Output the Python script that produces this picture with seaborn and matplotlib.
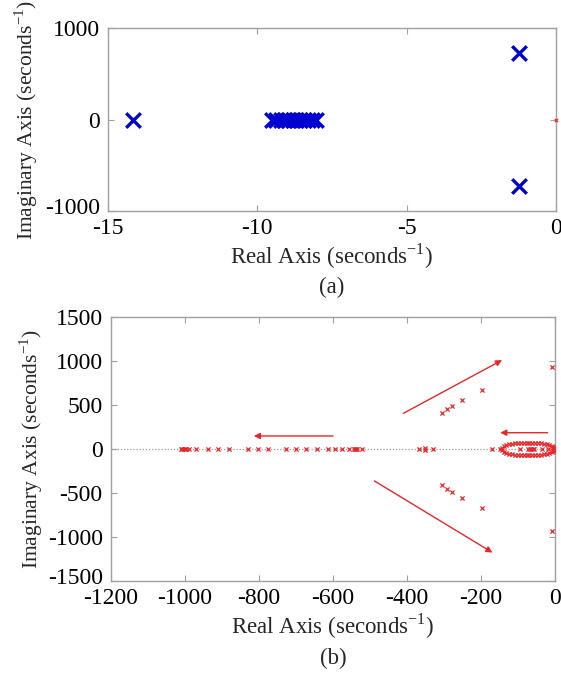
import matplotlib
matplotlib.use("Agg")
import matplotlib.pyplot as plt
import matplotlib.transforms as mtrans
import seaborn as sns
import numpy as np

# ---------------- data: panel (a) ----------------
a_x = [-14.17, -9.50, -9.36, -9.22, -9.08, -8.95, -8.82, -8.69, -8.56,
       -8.43, -8.30, -8.17, -8.04, -1.24, -1.24]
a_y = [0, 0, 0, 0, 0, 0, 0, 0, 0, 0, 0, 0, 0, 730, -730]
a_xticks = [-15, -10, -5, 0]
a_yticks = [-1000, 0, 1000]

# ---------------- data: panel (b) ----------------
real_x = [-1010, -1007, -1004, -1001, -998, -990, -970, -939, -910, -881,
          -830, -804, -777, -727, -701, -674, -644, -614, -595, -577,
          -556, -544, -540, -537, -534, -522, -368, -351, -351, -331,
          -170, -148, -95, -72, -68, -64, -60, -56, -35, -20]
real_y = [0, 0, 0, 0, 0, 0, 0, 0, 0, 0,
          0, 0, 0, 0, 0, 0, 0, 0, 0, 0,
          0, 0, 0, 0, 0, 0, 0, 15, -15, 0,
          0, 0, 0, 0, 0, 0, 0, 0, 0, 0]
cplx_x = [-305, -293, -278, -251, -196, -8]
cplx_y = [405, 450, 488, 556, 670, 935]
ell_x = [-142, -138, -132, -125, -117, -109, -101, -93, -85, -77, -69, -61,
         -53, -45, -37, -29, -22, -15, -9, -5, -2]
ell_y = [12, 32, 45, 54, 61, 66, 69, 71, 72, 73, 73, 72,
         71, 69, 66, 62, 56, 48, 37, 24, 9]
b_xticks = [-1200, -1000, -800, -600, -400, -200, 0]
b_yticks = [-1500, -1000, -500, 0, 500, 1000, 1500]
# arrows: (start_x, start_y, end_x, end_y)
arrow_sx = [-410, -488, -600, -20]
arrow_sy = [405, -363, 148, 185]
arrow_ex = [-143, -169, -814, -148]
arrow_ey = [1010, -1177, 148, 185]

# ---------------- styling ----------------
sns.set_theme(style="ticks")
plt.rcParams["font.family"] = "serif"
plt.rcParams["font.serif"] = ["Liberation Serif", "DejaVu Serif"]
plt.rcParams["mathtext.fontset"] = "custom"
plt.rcParams["mathtext.rm"] = "Liberation Serif"
plt.rcParams["axes.unicode_minus"] = False
TFS = 17
XLFS = 16.5
YLFS = 15.5
BLUE = "#0000D0"
RED = "#E8262A"
SPINE = "#A0A0A0"

fig = plt.figure(figsize=(5.61, 6.73), dpi=100)
axa = fig.add_axes([108/561, 1-211/673, 448/561, 183/673])
axb = fig.add_axes([111/561, 1-581/673, 444/561, 264/673])

def style(ax):
    for s in ax.spines.values():
        s.set_color(SPINE)
        s.set_linewidth(1.0)
    ax.tick_params(direction="in", length=4, width=0.8, color=SPINE,
                   top=True, right=True, labelsize=TFS, labelcolor="black")
    ax.tick_params(axis="y", pad=6)
    ax.tick_params(axis="x", pad=5)

# panel (a)
sns.scatterplot(x=a_x, y=a_y, marker="x", s=110, color=BLUE, linewidth=2.4, ax=axa,
                legend=False, zorder=3)
sns.scatterplot(x=[0], y=[0], marker="x", s=6, color=RED, linewidth=0.8, ax=axa,
                legend=False, clip_on=False, zorder=3)
axa.set_xlim(-15, 0)
axa.set_ylim(-1000, 1000)
axa.set_xticks(a_xticks)
axa.set_yticks(a_yticks)
style(axa)
axa.set_xlabel(r"Real Axis (seconds$^{\mathregular{-1}}$)", fontsize=XLFS, labelpad=2)
axa.set_ylabel(r"Imaginary Axis (seconds$^{\mathregular{-1}}$)", fontsize=YLFS, labelpad=3)
fig.text(332/561, 1-287/673, "(a)", fontsize=XLFS, ha="center", va="center")

# panel (b)
axb.axhline(0, color="#999999", ls=(0, (1, 1.5)), lw=0.9, zorder=1)
all_x = real_x + cplx_x + cplx_x + ell_x + ell_x
all_y = real_y + cplx_y + [-v for v in cplx_y] + ell_y + [-v for v in ell_y]
sns.scatterplot(x=all_x, y=all_y, marker="x", s=9, color=RED, linewidth=0.9,
                ax=axb, legend=False, zorder=3)
for sx, sy, ex, ey in zip(arrow_sx, arrow_sy, arrow_ex, arrow_ey):
    axb.annotate("", xy=(ex, ey), xytext=(sx, sy),
                 arrowprops=dict(arrowstyle="-|>", color=RED, lw=1.0,
                                 mutation_scale=9, shrinkA=0, shrinkB=0))
axb.set_xlim(-1200, 0)
axb.set_ylim(-1500, 1500)
axb.set_xticks(b_xticks)
axb.set_yticks(b_yticks)
style(axb)
axb.set_xlabel(r"Real Axis (seconds$^{\mathregular{-1}}$)", fontsize=XLFS, labelpad=2)
axb.set_ylabel(r"Imaginary Axis (seconds$^{\mathregular{-1}}$)", fontsize=YLFS, labelpad=2)
fig.text(333/561, 1-658/673, "(b)", fontsize=XLFS, ha="center", va="center")

# nudge the lowest y tick labels up slightly, as in the reference
for ax in (axa, axb):
    lab = ax.get_yticklabels()[0]
    lab.set_transform(lab.get_transform() +
                      mtrans.ScaledTranslation(0, 5/100, fig.dpi_scale_trans))

fig.savefig("out.png", dpi=100)
